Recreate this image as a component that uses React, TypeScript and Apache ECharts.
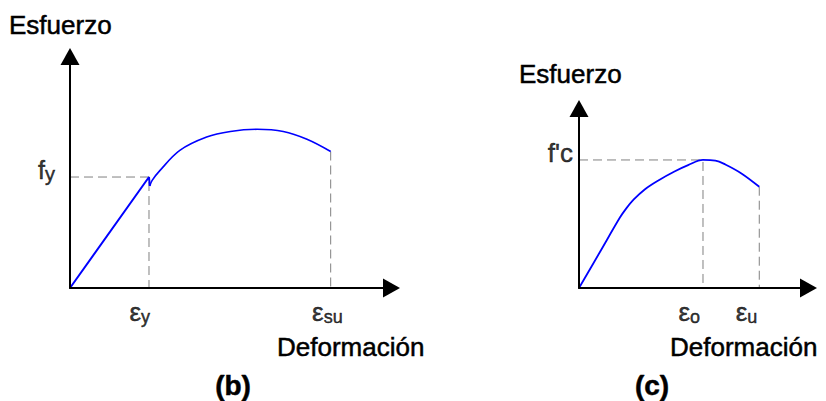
import React, { useEffect, useRef } from "react";
import * as echarts from "echarts";

// (b) Steel: strain in units of εy, stress in units of fy
const STEEL_EPS_Y = 1;
const STEEL_FY = 1;
const STEEL_EPS_SU = 3.3;
const STEEL_F_SU = 1.23;
const STEEL_ELASTIC: [number, number][] = [
  [0, 0],
  [1, 1],
  [1.01, 0.92],
];
const STEEL_HARDENING: [number, number][] = [
  [1.01, 0.92],
  [1.04, 0.97],
  [1.14, 1.06],
  [1.39, 1.24],
  [1.73, 1.36],
  [2.03, 1.41],
  [2.37, 1.43],
  [2.7, 1.41],
  [3.0, 1.34],
  [3.3, 1.23],
];

// (c) Concrete: strain in units of εo, stress in units of f'c
const CONC_EPS_O = 1;
const CONC_FC = 1;
const CONC_EPS_U = 1.454;
const CONC_F_U = 0.791;
const CONC_CURVE: [number, number][] = [
  [0, 0],
  [0.17, 0.283],
  [0.33, 0.55],
  [0.38, 0.62],
  [0.44, 0.69],
  [0.53, 0.77],
  [0.64, 0.84],
  [0.77, 0.91],
  [0.88, 0.96],
  [1.0, 1.0],
  [1.1, 0.995],
  [1.18, 0.965],
  [1.31, 0.895],
  [1.454, 0.791],
];

// Axis extents (same units as above)
const STEEL_X_MAX = 4.07;
const STEEL_Y_MAX = 2.086;
const CONC_X_MAX = 1.851;
const CONC_Y_MAX = 1.402;

const FONT = '"Liberation Sans", Arial, Helvetica, sans-serif';
const BLUE = "#0000ff";
const GUIDE = "#808080";
const INK = "#000";

const axisBase = (gridIndex: number, max: number) => ({
  gridIndex,
  type: "value" as const,
  min: 0,
  max,
  z: 5,
  axisLine: {
    show: true,
    onZero: false,
    symbol: ["none", "triangle"],
    symbolSize: [19, 17],
    lineStyle: { color: INK, width: 2 },
  },
  axisTick: { show: false },
  axisLabel: { show: false },
  splitLine: { show: false },
});

const tok = (fontSize: number, lineHeight: number, verticalAlign: string) => ({
  fontSize,
  lineHeight,
  fontFamily: FONT,
  color: INK,
  textBorderColor: INK,
  textBorderWidth: 0.5,
  verticalAlign,
});

const rich = {
  e: tok(26, 28, "middle"),
  s: tok(18, 18, "bottom"),
  f: tok(25, 27, "middle"),
  fs: tok(20, 20, "bottom"),
  c: tok(26, 28, "middle"),
};

const tickLabel = (value: [number, number], formatter: string, offset: [number, number]) => ({
  value,
  label: {
    show: true,
    position: [0, 0],
    align: "right",
    verticalAlign: "middle",
    color: INK,
    offset,
    formatter,
    rich,
  },
});

const guide = (xi: number, data: [number, number][]) => ({
  type: "line",
  xAxisIndex: xi,
  yAxisIndex: xi,
  data,
  showSymbol: false,
  silent: true,
  z: 1,
  lineStyle: { color: GUIDE, width: 1, type: [9, 5] },
});

const caption = (text: string, x: number, y: number, size: number, bold = false, align = "left") => ({
  type: "text",
  x,
  y,
  style: {
    text,
    fontSize: size,
    fontWeight: bold ? "bold" : "normal",
    fontFamily: FONT,
    fill: INK,
    stroke: INK,
    lineWidth: 0.5,
    align,
    verticalAlign: "middle",
  },
});

export default function App() {
  const ref = useRef<HTMLDivElement>(null);

  useEffect(() => {
    if (!ref.current) return;
    const chart = echarts.init(ref.current, undefined, { renderer: "svg" });
    chart.setOption({
      animation: false,
      backgroundColor: "#fff",
      grid: [
        { left: 70, top: 56.5, width: 321.5, height: 231.5 },
        { left: 579, top: 108.5, width: 229.5, height: 179.5 },
      ],
      xAxis: [axisBase(0, STEEL_X_MAX), axisBase(1, CONC_X_MAX)],
      yAxis: [axisBase(0, STEEL_Y_MAX), axisBase(1, CONC_Y_MAX)],
      series: [
        guide(0, [
          [0, STEEL_FY],
          [STEEL_EPS_Y, STEEL_FY],
          [STEEL_EPS_Y, 0],
        ]),
        guide(0, [
          [STEEL_EPS_SU, STEEL_F_SU],
          [STEEL_EPS_SU, 0],
        ]),
        guide(1, [
          [0, CONC_FC],
          [CONC_EPS_O, CONC_FC],
          [CONC_EPS_O, 0],
        ]),
        guide(1, [
          [CONC_EPS_U, CONC_F_U],
          [CONC_EPS_U, 0],
        ]),
        {
          type: "line",
          xAxisIndex: 0,
          yAxisIndex: 0,
          data: STEEL_ELASTIC,
          showSymbol: false,
          silent: true,
          z: 3,
          lineStyle: { color: BLUE, width: 2 },
        },
        {
          type: "line",
          xAxisIndex: 0,
          yAxisIndex: 0,
          data: STEEL_HARDENING,
          smooth: 0.35,
          showSymbol: false,
          silent: true,
          z: 3,
          lineStyle: { color: BLUE, width: 1.6 },
        },
        {
          type: "line",
          xAxisIndex: 1,
          yAxisIndex: 1,
          data: CONC_CURVE,
          smooth: 0.35,
          showSymbol: false,
          silent: true,
          z: 3,
          lineStyle: { color: BLUE, width: 1.8 },
        },
        {
          type: "scatter",
          xAxisIndex: 0,
          yAxisIndex: 0,
          symbolSize: 0,
          silent: true,
          data: [
            tickLabel([STEEL_EPS_Y, 0], "{e|ε}{s|y}", [1, 24]),
            tickLabel([STEEL_EPS_SU, 0], "{e|ε}{s|su}", [12, 24]),
            tickLabel([0, STEEL_FY], "{f|f}{fs|y}", [-15, -7]),
          ],
        },
        {
          type: "scatter",
          xAxisIndex: 1,
          yAxisIndex: 1,
          symbolSize: 0,
          silent: true,
          data: [
            tickLabel([CONC_EPS_O, 0], "{e|ε}{s|o}", [-3, 24]),
            tickLabel([CONC_EPS_U, 0], "{e|ε}{s|u}", [-2, 24]),
            tickLabel([0, CONC_FC], "{c|f'c}", [-6, -7]),
          ],
        },
      ],
      graphic: [
        caption("Esfuerzo", 9, 25, 26),
        caption("Esfuerzo", 519, 74, 26),
        caption("Deformación", 277, 347, 26),
        caption("Deformación", 670, 347, 26),
        caption("(b)", 233, 385, 28, true, "center"),
        caption("(c)", 652, 385, 28, true, "center"),
      ],
    });
    return () => chart.dispose();
  }, []);

  return (
    <div
      ref={ref}
      style={{ position: "absolute", left: 0, top: 0, width: 826, height: 401, background: "#fff" }}
    />
  );
}
